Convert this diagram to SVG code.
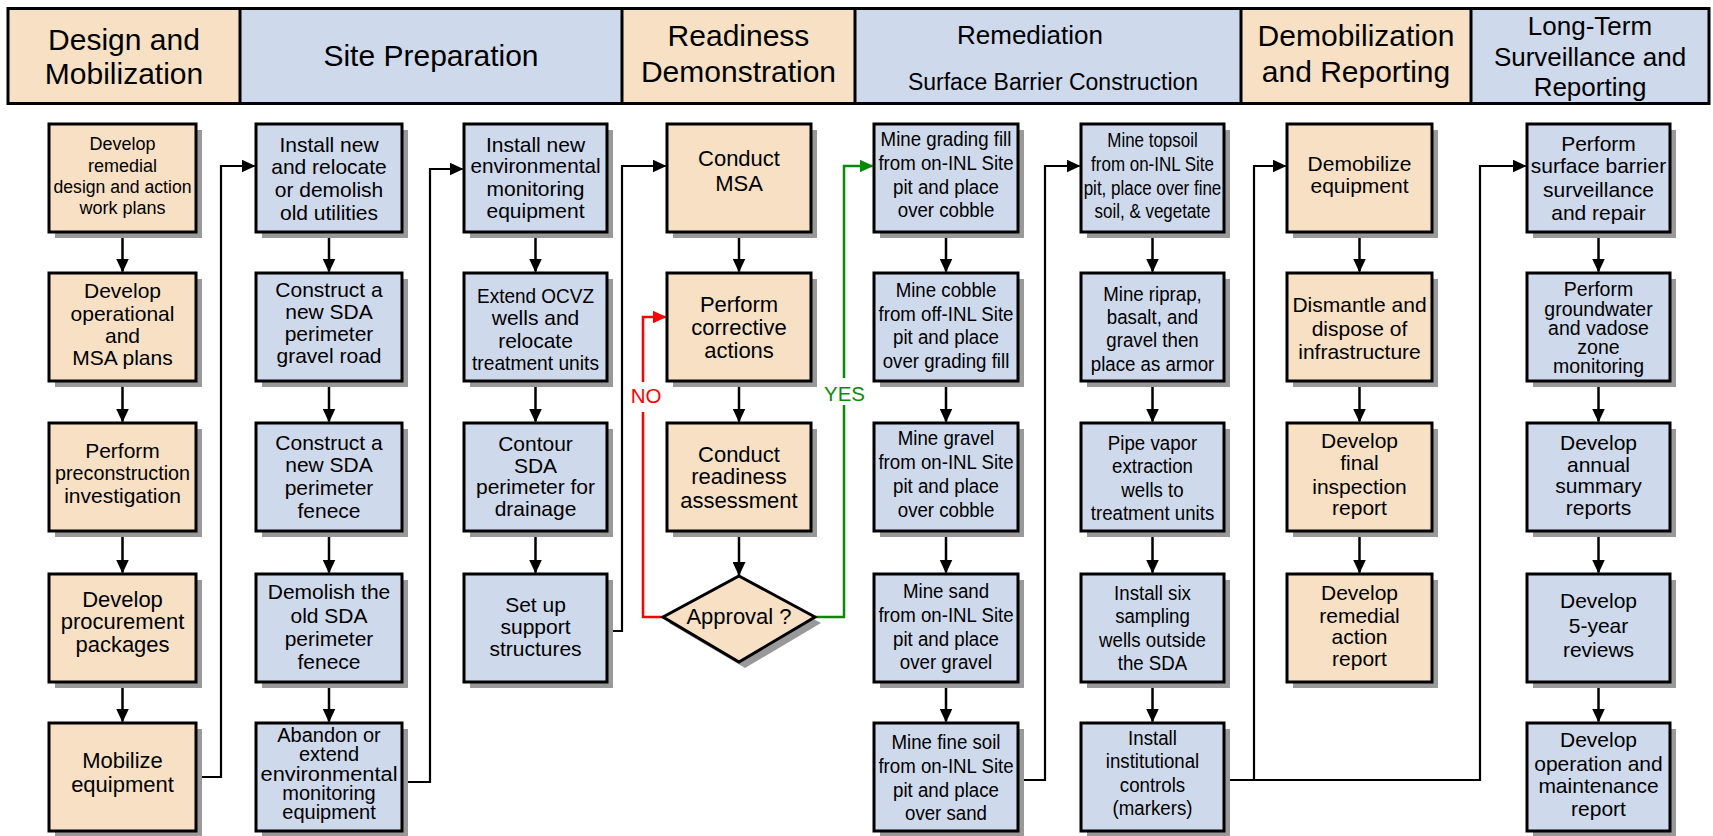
<svg xmlns="http://www.w3.org/2000/svg" width="1713" height="836" viewBox="0 0 1713 836">
  <style>
    .hb { fill: #f7e0c4; }
    .hl { fill: #ced9ec; }
    .hd { stroke: #000; stroke-width: 3; }
    .ht { font-family: "Liberation Sans", Arial, Helvetica, sans-serif; font-size: 30px; text-anchor: middle; fill: #000; }
    .sh { fill: #999; }
    .b { fill: #f7e0c4; stroke: #000; stroke-width: 3; }
    .l { fill: #ced9ec; stroke: #000; stroke-width: 3; }
    .t { font-family: "Liberation Sans", Arial, Helvetica, sans-serif; font-size: 21px; text-anchor: middle; fill: #000; }
    .t22 { font-size: 22px; }
    .tt { font-size: 20px; }
    .c { fill: none; stroke: #000; stroke-width: 2.5; marker-end: url(#ah); }
    .lk { fill: none; stroke: #000; stroke-width: 2.2; marker-end: url(#ah); }
    .no { fill: none; stroke: #f00; stroke-width: 2.5; marker-end: url(#ahr); }
    .yes { fill: none; stroke: #088a08; stroke-width: 2.5; marker-end: url(#ahg); }
    .lbl { font-family: "Liberation Sans", Arial, Helvetica, sans-serif; font-size: 20.5px; text-anchor: middle; }
  </style>
  <defs>
    <marker id="ah" viewBox="0 0 14 13" refX="13" refY="6.5" markerWidth="14" markerHeight="13" markerUnits="userSpaceOnUse" orient="auto">
      <path d="M0,0 L14,6.5 L0,13 z" fill="#000"/>
    </marker>
    <marker id="ahr" viewBox="0 0 14 13" refX="13" refY="6.5" markerWidth="14" markerHeight="13" markerUnits="userSpaceOnUse" orient="auto">
      <path d="M0,0 L14,6.5 L0,13 z" fill="#f00"/>
    </marker>
    <marker id="ahg" viewBox="0 0 14 13" refX="13" refY="6.5" markerWidth="14" markerHeight="13" markerUnits="userSpaceOnUse" orient="auto">
      <path d="M0,0 L14,6.5 L0,13 z" fill="#088a08"/>
    </marker>
  </defs>

  <rect width="1713" height="836" fill="#fff"/>

  <!-- phase header band -->
  <g id="header">
    <rect class="hb" x="8" y="8.5" width="232" height="95"/>
    <rect class="hl" x="240" y="8.5" width="382" height="95"/>
    <rect class="hb" x="622" y="8.5" width="233" height="95"/>
    <rect class="hl" x="855" y="8.5" width="386" height="95"/>
    <rect class="hb" x="1241" y="8.5" width="230" height="95"/>
    <rect class="hl" x="1471" y="8.5" width="238" height="95"/>
    <rect x="8" y="8.5" width="1701" height="95" fill="none" stroke="#000" stroke-width="3"/>
    <path class="hd" d="M240,8.5V103.5M622,8.5V103.5M855,8.5V103.5M1241,8.5V103.5M1471,8.5V103.5"/>
    <text class="ht"><tspan x="124" y="50">Design and</tspan><tspan x="124" y="84">Mobilization</tspan></text>
    <text class="ht"><tspan x="431" y="66">Site Preparation</tspan></text>
    <text class="ht"><tspan x="738.5" y="46">Readiness</tspan><tspan x="738.5" y="82">Demonstration</tspan></text>
    <text class="ht" style="font-size:26px"><tspan x="1030" y="44">Remediation</tspan></text>
    <text class="ht" style="font-size:23px"><tspan x="1053" y="90">Surface Barrier Construction</tspan></text>
    <text class="ht"><tspan x="1356" y="46">Demobilization</tspan><tspan x="1356" y="82">and Reporting</tspan></text>
    <text class="ht" style="font-size:26px"><tspan x="1590" y="35">Long-Term</tspan><tspan x="1590" y="65.5">Surveillance and</tspan><tspan x="1590" y="96">Reporting</tspan></text>
  </g>

  <!-- connectors -->
  <g id="connectors">
    <!-- column 1 -->
    <path class="c" d="M122.5,233.5V271.5"/>
    <path class="c" d="M122.5,382.5V421.5"/>
    <path class="c" d="M122.5,532.5V572.5"/>
    <path class="c" d="M122.5,683.5V721.5"/>
    <!-- column 2 -->
    <path class="c" d="M329,233.5V271.5"/>
    <path class="c" d="M329,382.5V421.5"/>
    <path class="c" d="M329,532.5V572.5"/>
    <path class="c" d="M329,683.5V721.5"/>
    <!-- column 3 -->
    <path class="c" d="M535.5,233.5V271.5"/>
    <path class="c" d="M535.5,382.5V421.5"/>
    <path class="c" d="M535.5,532.5V572.5"/>
    <!-- column 4 -->
    <path class="c" d="M739,233.5V271.5"/>
    <path class="c" d="M739,382.5V421.5"/>
    <path class="c" d="M739,532.5V575"/>
    <!-- column 5 -->
    <path class="c" d="M946,233.5V271.5"/>
    <path class="c" d="M946,382.5V421.5"/>
    <path class="c" d="M946,532.5V572.5"/>
    <path class="c" d="M946,683.5V721.5"/>
    <!-- column 6 -->
    <path class="c" d="M1152.5,233.5V271.5"/>
    <path class="c" d="M1152.5,382.5V421.5"/>
    <path class="c" d="M1152.5,532.5V572.5"/>
    <path class="c" d="M1152.5,683.5V721.5"/>
    <!-- column 7 -->
    <path class="c" d="M1359.5,233.5V271.5"/>
    <path class="c" d="M1359.5,382.5V421.5"/>
    <path class="c" d="M1359.5,532.5V572.5"/>
    <!-- column 8 -->
    <path class="c" d="M1598.5,233.5V271.5"/>
    <path class="c" d="M1598.5,382.5V421.5"/>
    <path class="c" d="M1598.5,532.5V572.5"/>
    <path class="c" d="M1598.5,683.5V721.5"/>

    <!-- column-to-column links -->
    <path class="lk" d="M197.5,777H221V166H254.5"/>
    <path class="lk" d="M403.5,782H430V169H462.5"/>
    <path class="lk" d="M608.5,631H622V166H665.5"/>
    <path class="lk" d="M1019.5,780H1045V166H1079.5"/>
    <path class="lk" d="M1225.5,780H1480V166H1525.5"/>
    <path class="lk" d="M1254,780V166H1285.5"/>

    <!-- decision branches -->
    <path class="no" d="M663,617H643V412M643,382V317H665.5"/>
    <text class="lbl" x="646" y="403" fill="#f00">NO</text>
    <path class="yes" d="M815,617H844V405M844,378V166H872.5"/>
    <text class="lbl" x="844.5" y="401" fill="#088a08">YES</text>
  </g>

  <!-- Design and Mobilization -->
  <g id="n-design-plans">
    <rect class="sh" x="55" y="130" width="147" height="108"/>
    <rect class="b" x="49" y="124" width="147" height="108"/>
    <text class="t" style="font-size:18px"><tspan x="122.5" y="150">Develop</tspan><tspan x="122.5" y="171.5">remedial</tspan><tspan x="122.5" y="193" textLength="138" lengthAdjust="spacingAndGlyphs">design and action</tspan><tspan x="122.5" y="214">work plans</tspan></text>
  </g>
  <g id="n-msa-plans">
    <rect class="sh" x="55" y="279" width="147" height="108"/>
    <rect class="b" x="49" y="273" width="147" height="108"/>
    <text class="t"><tspan x="122.5" y="298">Develop</tspan><tspan x="122.5" y="321">operational</tspan><tspan x="122.5" y="343">and</tspan><tspan x="122.5" y="365">MSA plans</tspan></text>
  </g>
  <g id="n-preconstruction">
    <rect class="sh" x="55" y="429" width="147" height="108"/>
    <rect class="b" x="49" y="423" width="147" height="108"/>
    <text class="t"><tspan x="122.5" y="458">Perform</tspan><tspan x="122.5" y="480" textLength="135" lengthAdjust="spacingAndGlyphs">preconstruction</tspan><tspan x="122.5" y="503">investigation</tspan></text>
  </g>
  <g id="n-procurement">
    <rect class="sh" x="55" y="580" width="147" height="108"/>
    <rect class="b" x="49" y="574" width="147" height="108"/>
    <text class="t t22"><tspan x="122.5" y="607">Develop</tspan><tspan x="122.5" y="629">procurement</tspan><tspan x="122.5" y="652">packages</tspan></text>
  </g>
  <g id="n-mobilize">
    <rect class="sh" x="55" y="729" width="147" height="108"/>
    <rect class="b" x="49" y="723" width="147" height="108"/>
    <text class="t t22"><tspan x="122.5" y="768">Mobilize</tspan><tspan x="122.5" y="792">equipment</tspan></text>
  </g>

  <!-- Site Preparation -->
  <g id="n-utilities">
    <rect class="sh" x="262" y="130" width="146" height="108"/>
    <rect class="l" x="256" y="124" width="146" height="108"/>
    <text class="t"><tspan x="329" y="152">Install new</tspan><tspan x="329" y="174">and relocate</tspan><tspan x="329" y="197">or demolish</tspan><tspan x="329" y="220">old utilities</tspan></text>
  </g>
  <g id="n-gravel-road">
    <rect class="sh" x="262" y="279" width="146" height="108"/>
    <rect class="l" x="256" y="273" width="146" height="108"/>
    <text class="t"><tspan x="329" y="297">Construct a</tspan><tspan x="329" y="319">new SDA</tspan><tspan x="329" y="341">perimeter</tspan><tspan x="329" y="363">gravel road</tspan></text>
  </g>
  <g id="n-new-fence">
    <rect class="sh" x="262" y="429" width="146" height="108"/>
    <rect class="l" x="256" y="423" width="146" height="108"/>
    <text class="t"><tspan x="329" y="450">Construct a</tspan><tspan x="329" y="472">new SDA</tspan><tspan x="329" y="495">perimeter</tspan><tspan x="329" y="518">fenece</tspan></text>
  </g>
  <g id="n-old-fence">
    <rect class="sh" x="262" y="580" width="146" height="108"/>
    <rect class="l" x="256" y="574" width="146" height="108"/>
    <text class="t"><tspan x="329" y="599">Demolish the</tspan><tspan x="329" y="623">old SDA</tspan><tspan x="329" y="646">perimeter</tspan><tspan x="329" y="669">fenece</tspan></text>
  </g>
  <g id="n-abandon">
    <rect class="sh" x="262" y="729" width="146" height="108"/>
    <rect class="l" x="256" y="723" width="146" height="108"/>
    <text class="t tt"><tspan x="329" y="742">Abandon or</tspan><tspan x="329" y="761">extend</tspan><tspan x="329" y="781" textLength="137" lengthAdjust="spacingAndGlyphs">environmental</tspan><tspan x="329" y="800">monitoring</tspan><tspan x="329" y="819">equipment</tspan></text>
  </g>
  <g id="n-env-monitoring">
    <rect class="sh" x="470" y="130" width="143" height="108"/>
    <rect class="l" x="464" y="124" width="143" height="108"/>
    <text class="t"><tspan x="535.5" y="152">Install new</tspan><tspan x="535.5" y="173" textLength="130" lengthAdjust="spacingAndGlyphs">environmental</tspan><tspan x="535.5" y="196">monitoring</tspan><tspan x="535.5" y="218">equipment</tspan></text>
  </g>
  <g id="n-ocvz">
    <rect class="sh" x="470" y="279" width="143" height="108"/>
    <rect class="l" x="464" y="273" width="143" height="108"/>
    <text class="t"><tspan x="535.5" y="303" textLength="117" lengthAdjust="spacingAndGlyphs">Extend OCVZ</tspan><tspan x="535.5" y="325">wells and</tspan><tspan x="535.5" y="348">relocate</tspan><tspan x="535.5" y="370" textLength="127" lengthAdjust="spacingAndGlyphs">treatment units</tspan></text>
  </g>
  <g id="n-contour">
    <rect class="sh" x="470" y="429" width="143" height="108"/>
    <rect class="l" x="464" y="423" width="143" height="108"/>
    <text class="t"><tspan x="535.5" y="451">Contour</tspan><tspan x="535.5" y="473">SDA</tspan><tspan x="535.5" y="494">perimeter for</tspan><tspan x="535.5" y="516">drainage</tspan></text>
  </g>
  <g id="n-support">
    <rect class="sh" x="470" y="580" width="143" height="108"/>
    <rect class="l" x="464" y="574" width="143" height="108"/>
    <text class="t"><tspan x="535.5" y="612">Set up</tspan><tspan x="535.5" y="634">support</tspan><tspan x="535.5" y="656">structures</tspan></text>
  </g>

  <!-- Readiness Demonstration -->
  <g id="n-conduct-msa">
    <rect class="sh" x="673" y="130" width="144" height="108"/>
    <rect class="b" x="667" y="124" width="144" height="108"/>
    <text class="t t22"><tspan x="739" y="166">Conduct</tspan><tspan x="739" y="191">MSA</tspan></text>
  </g>
  <g id="n-corrective">
    <rect class="sh" x="673" y="279" width="144" height="108"/>
    <rect class="b" x="667" y="273" width="144" height="108"/>
    <text class="t t22"><tspan x="739" y="312">Perform</tspan><tspan x="739" y="335">corrective</tspan><tspan x="739" y="358">actions</tspan></text>
  </g>
  <g id="n-readiness">
    <rect class="sh" x="673" y="429" width="144" height="108"/>
    <rect class="b" x="667" y="423" width="144" height="108"/>
    <text class="t t22"><tspan x="739" y="462">Conduct</tspan><tspan x="739" y="484">readiness</tspan><tspan x="739" y="508">assessment</tspan></text>
  </g>
  <g id="n-approval">
    <polygon class="sh" points="745,582 821,623 745,668 669,623"/>
    <polygon class="b" points="739,576 815,617 739,662 663,617"/>
    <text class="t t22" x="739" y="624">Approval ?</text>
  </g>

  <!-- Remediation: surface barrier construction -->
  <g id="n-grading-fill">
    <rect class="sh" x="880" y="130" width="144" height="108"/>
    <rect class="l" x="874" y="124" width="144" height="108"/>
    <text class="t" transform="translate(946 0) scale(0.89 1)"><tspan x="0" y="146">Mine grading fill</tspan><tspan x="0" y="170">from on-INL Site</tspan><tspan x="0" y="194">pit and place</tspan><tspan x="0" y="217">over cobble</tspan></text>
  </g>
  <g id="n-cobble">
    <rect class="sh" x="880" y="279" width="144" height="108"/>
    <rect class="l" x="874" y="273" width="144" height="108"/>
    <text class="t" transform="translate(946 0) scale(0.89 1)"><tspan x="0" y="297">Mine cobble</tspan><tspan x="0" y="321">from off-INL Site</tspan><tspan x="0" y="344">pit and place</tspan><tspan x="0" y="368">over grading fill</tspan></text>
  </g>
  <g id="n-gravel">
    <rect class="sh" x="880" y="429" width="144" height="108"/>
    <rect class="l" x="874" y="423" width="144" height="108"/>
    <text class="t" transform="translate(946 0) scale(0.89 1)"><tspan x="0" y="445">Mine gravel</tspan><tspan x="0" y="469">from on-INL Site</tspan><tspan x="0" y="493">pit and place</tspan><tspan x="0" y="517">over cobble</tspan></text>
  </g>
  <g id="n-sand">
    <rect class="sh" x="880" y="580" width="144" height="108"/>
    <rect class="l" x="874" y="574" width="144" height="108"/>
    <text class="t" transform="translate(946 0) scale(0.89 1)"><tspan x="0" y="598">Mine sand</tspan><tspan x="0" y="622">from on-INL Site</tspan><tspan x="0" y="646">pit and place</tspan><tspan x="0" y="669">over gravel</tspan></text>
  </g>
  <g id="n-fine-soil">
    <rect class="sh" x="880" y="729" width="144" height="108"/>
    <rect class="l" x="874" y="723" width="144" height="108"/>
    <text class="t" transform="translate(946 0) scale(0.89 1)"><tspan x="0" y="749">Mine fine soil</tspan><tspan x="0" y="773">from on-INL Site</tspan><tspan x="0" y="797">pit and place</tspan><tspan x="0" y="820">over sand</tspan></text>
  </g>
  <g id="n-topsoil">
    <rect class="sh" x="1087" y="130" width="143" height="108"/>
    <rect class="l" x="1081" y="124" width="143" height="108"/>
    <text class="t" style="font-size:19.5px" transform="translate(1152.5 0) scale(0.87 1)"><tspan x="0" y="147">Mine topsoil</tspan><tspan x="0" y="171">from on-INL Site</tspan><tspan x="0" y="195">pit, place over fine</tspan><tspan x="0" y="218">soil, &amp; vegetate</tspan></text>
  </g>
  <g id="n-riprap">
    <rect class="sh" x="1087" y="279" width="143" height="108"/>
    <rect class="l" x="1081" y="273" width="143" height="108"/>
    <text class="t" transform="translate(1152.5 0) scale(0.89 1)"><tspan x="0" y="301">Mine riprap,</tspan><tspan x="0" y="324">basalt, and</tspan><tspan x="0" y="347">gravel then</tspan><tspan x="0" y="371">place as armor</tspan></text>
  </g>
  <g id="n-vapor">
    <rect class="sh" x="1087" y="429" width="143" height="108"/>
    <rect class="l" x="1081" y="423" width="143" height="108"/>
    <text class="t" transform="translate(1152.5 0) scale(0.89 1)"><tspan x="0" y="450">Pipe vapor</tspan><tspan x="0" y="473">extraction</tspan><tspan x="0" y="497">wells to</tspan><tspan x="0" y="520">treatment units</tspan></text>
  </g>
  <g id="n-sampling">
    <rect class="sh" x="1087" y="580" width="143" height="108"/>
    <rect class="l" x="1081" y="574" width="143" height="108"/>
    <text class="t" transform="translate(1152.5 0) scale(0.89 1)"><tspan x="0" y="600">Install six</tspan><tspan x="0" y="623">sampling</tspan><tspan x="0" y="647">wells outside</tspan><tspan x="0" y="670">the SDA</tspan></text>
  </g>
  <g id="n-institutional">
    <rect class="sh" x="1087" y="729" width="143" height="108"/>
    <rect class="l" x="1081" y="723" width="143" height="108"/>
    <text class="t" transform="translate(1152.5 0) scale(0.89 1)"><tspan x="0" y="745">Install</tspan><tspan x="0" y="768">institutional</tspan><tspan x="0" y="792">controls</tspan><tspan x="0" y="815">(markers)</tspan></text>
  </g>

  <!-- Demobilization and Reporting -->
  <g id="n-demobilize">
    <rect class="sh" x="1293" y="130" width="145" height="108"/>
    <rect class="b" x="1287" y="124" width="145" height="108"/>
    <text class="t"><tspan x="1359.5" y="171">Demobilize</tspan><tspan x="1359.5" y="193">equipment</tspan></text>
  </g>
  <g id="n-dismantle">
    <rect class="sh" x="1293" y="279" width="145" height="108"/>
    <rect class="b" x="1287" y="273" width="145" height="108"/>
    <text class="t"><tspan x="1359.5" y="312">Dismantle and</tspan><tspan x="1359.5" y="336">dispose of</tspan><tspan x="1359.5" y="359">infrastructure</tspan></text>
  </g>
  <g id="n-final-inspection">
    <rect class="sh" x="1293" y="429" width="145" height="108"/>
    <rect class="b" x="1287" y="423" width="145" height="108"/>
    <text class="t"><tspan x="1359.5" y="448">Develop</tspan><tspan x="1359.5" y="470">final</tspan><tspan x="1359.5" y="494">inspection</tspan><tspan x="1359.5" y="515">report</tspan></text>
  </g>
  <g id="n-ra-report">
    <rect class="sh" x="1293" y="580" width="145" height="108"/>
    <rect class="b" x="1287" y="574" width="145" height="108"/>
    <text class="t"><tspan x="1359.5" y="600">Develop</tspan><tspan x="1359.5" y="623">remedial</tspan><tspan x="1359.5" y="644">action</tspan><tspan x="1359.5" y="666">report</tspan></text>
  </g>

  <!-- Long-Term Surveillance and Reporting -->
  <g id="n-barrier-surveillance">
    <rect class="sh" x="1533" y="130" width="143" height="108"/>
    <rect class="l" x="1527" y="124" width="143" height="108"/>
    <text class="t"><tspan x="1598.5" y="151">Perform</tspan><tspan x="1598.5" y="173">surface barrier</tspan><tspan x="1598.5" y="197">surveillance</tspan><tspan x="1598.5" y="220">and repair</tspan></text>
  </g>
  <g id="n-groundwater">
    <rect class="sh" x="1533" y="279" width="143" height="108"/>
    <rect class="l" x="1527" y="273" width="143" height="108"/>
    <text class="t" style="font-size:19.5px"><tspan x="1598.5" y="296">Perform</tspan><tspan x="1598.5" y="315.5">groundwater</tspan><tspan x="1598.5" y="335">and vadose</tspan><tspan x="1598.5" y="354">zone</tspan><tspan x="1598.5" y="373">monitoring</tspan></text>
  </g>
  <g id="n-annual">
    <rect class="sh" x="1533" y="429" width="143" height="108"/>
    <rect class="l" x="1527" y="423" width="143" height="108"/>
    <text class="t"><tspan x="1598.5" y="450">Develop</tspan><tspan x="1598.5" y="472">annual</tspan><tspan x="1598.5" y="493">summary</tspan><tspan x="1598.5" y="515">reports</tspan></text>
  </g>
  <g id="n-five-year">
    <rect class="sh" x="1533" y="580" width="143" height="108"/>
    <rect class="l" x="1527" y="574" width="143" height="108"/>
    <text class="t"><tspan x="1598.5" y="608">Develop</tspan><tspan x="1598.5" y="633">5-year</tspan><tspan x="1598.5" y="657">reviews</tspan></text>
  </g>
  <g id="n-om-report">
    <rect class="sh" x="1533" y="729" width="143" height="108"/>
    <rect class="l" x="1527" y="723" width="143" height="108"/>
    <text class="t"><tspan x="1598.5" y="747">Develop</tspan><tspan x="1598.5" y="771">operation and</tspan><tspan x="1598.5" y="793">maintenance</tspan><tspan x="1598.5" y="816">report</tspan></text>
  </g>
</svg>
